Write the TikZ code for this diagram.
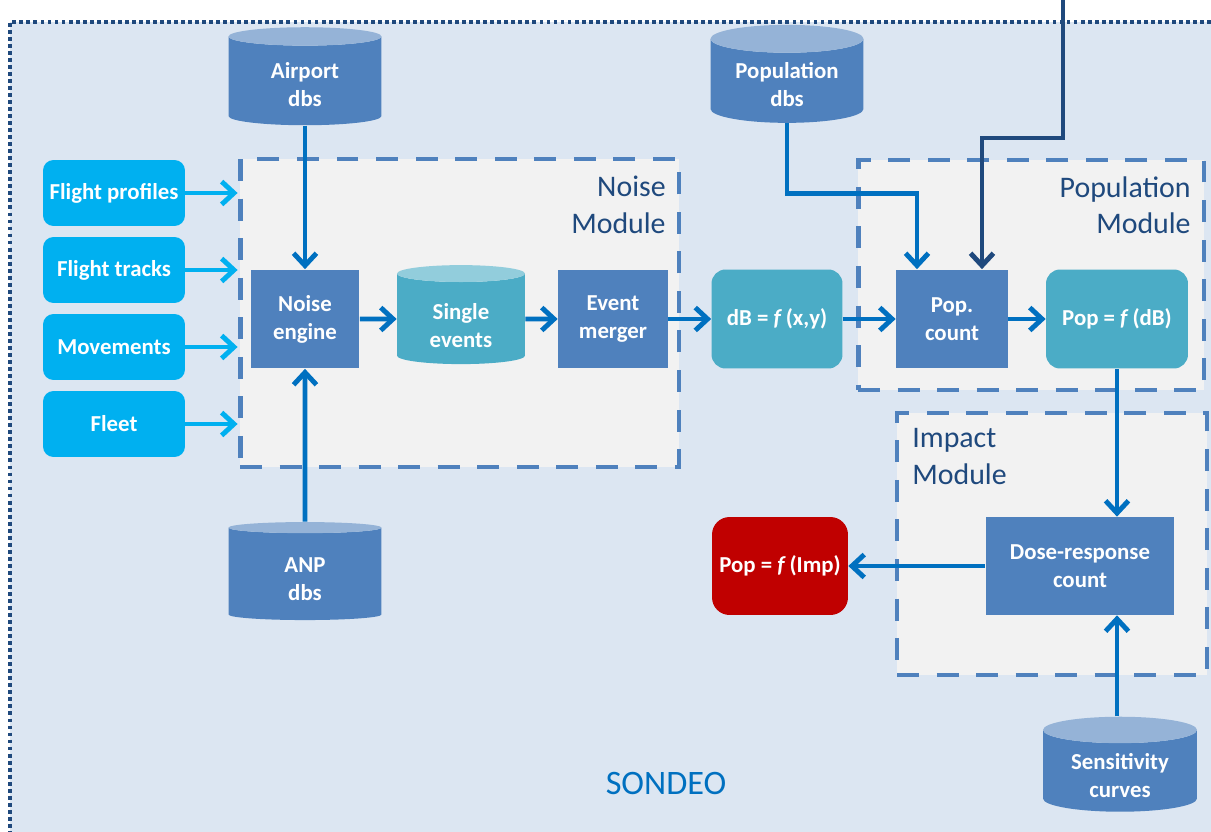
\documentclass[tikz,border=0pt]{standalone}
\usepackage{fontspec}
\setmainfont{Carlito}
\usepackage{tikz}
\usetikzlibrary{arrows.meta, shapes.geometric, positioning}
\definecolor{bgblue}{HTML}{DCE6F2}
\definecolor{modgray}{HTML}{F2F2F2}
\definecolor{boxblue}{HTML}{4F81BD}
\definecolor{topblue}{HTML}{95B3D7}
\definecolor{aqua}{HTML}{4BACC6}
\definecolor{topaqua}{HTML}{92CDDC}
\definecolor{skyblue}{HTML}{00B0F0}
\definecolor{linkblue}{HTML}{0070C0}
\definecolor{navy}{HTML}{1F497D}
\definecolor{outred}{HTML}{C00000}
\tikzset{txt/.style = {text=white, font=\fontsize{13}{16}\selectfont\bfseries, align=center, inner sep=0pt}}
\tikzset{proc/.style = {txt, shape=rectangle, fill=boxblue}}
\tikzset{result/.style = {txt, shape=rectangle, rounded corners=8pt, fill=aqua}}
\tikzset{input/.style = {txt, shape=rectangle, rounded corners=6pt, fill=skyblue, minimum width=2.84cm, minimum height=1.32cm}}
\tikzset{dbs/.style = {txt, shape=cylinder, shape border rotate=90, aspect=0.27, cylinder uses custom fill, cylinder body fill=boxblue, cylinder end fill=topblue, minimum width=3.06cm, minimum height=1.96cm, text height=29pt}}
\tikzset{module/.style = {shape=rectangle, draw=boxblue, fill=modgray, line width=2.8pt, dash pattern=on 12.5pt off 10pt, inner sep=0pt}}
\tikzset{modlabel/.style = {text=navy, font=\fontsize{17}{21}\selectfont, inner sep=0pt}}
\tikzset{edge/.style = {-{Straight Barb[length=7pt,width=13pt]}, draw=linkblue, line width=2.8pt}}
\tikzset{feed/.style = {edge, draw=skyblue}}

\begin{document}
\begin{tikzpicture}[x=0.02cm, y=-0.02cm]
                \useasboundingbox (0,0) rectangle (1211,832);
                \fill[bgblue] (10,22) rectangle (1211,832);
                \draw[navy, line width=2.2pt, dash pattern=on 2.2pt off 1.8pt] (1211,22) -- (10,22) -- (10,832);
                \node[module, minimum width=8.78cm, minimum height=6.16cm] (noise) at (459.5,313) {};
                \node[module, minimum width=6.92cm, minimum height=4.6cm] (popmod) at (1031,275) {};
                \node[module, minimum width=6.2cm, minimum height=5.24cm] (impmod) at (1052,544) {};
                \node[modlabel, anchor=north east, align=right] (noiselbl) at (666,176) {Noise\\Module};
                \node[modlabel, anchor=north east, align=right] (poplbl) at (1191,176) {Population\\Module};
                \node[modlabel, anchor=north west, align=left] (implbl) at (912,428) {Impact\\Module};
                \node[text=linkblue, font=\fontsize{19.5}{23}\selectfont] (sondeo) at (666,783) {SONDEO};
                \node[dbs] (airport) at (305,81) {Airport\\dbs};
                \node[dbs] (popdbs) at (787,81) {Population\\dbs};
                \node[dbs, text height=30pt] (anp) at (305,574) {ANP\\dbs};
                \node[dbs, minimum width=3.08cm, minimum height=1.9cm, text height=30pt] (sens) at (1120,771) {Sensitivity\\curves};
                \node[input] (fprof) at (114,193) {Flight profiles};
                \node[input] (ftrack) at (114,270) {Flight tracks};
                \node[input] (moves) at (114,347) {Movements};
                \node[input] (fleet) at (114,424) {Fleet};
                \node[proc, minimum width=2.18cm, minimum height=1.98cm] (engine) at (305,319) {Noise\\engine};
                \node[dbs, cylinder body fill=aqua, cylinder end fill=topaqua, minimum width=2.56cm, minimum height=1.98cm, text height=32.5pt] (single) at (461,319) {Single\\events};
                \node[proc, minimum width=2.2cm, minimum height=1.98cm] (merger) at (613,319) {Event\\merger};
                \node[result, minimum width=2.62cm, minimum height=1.98cm] (dbxy) at (777,319) {dB = \textit{f}\,(x,y)};
                \node[proc, minimum width=2.24cm, minimum height=1.98cm] (popcount) at (952,319) {Pop.\\count};
                \node[result, minimum width=2.84cm, minimum height=1.98cm] (popdb) at (1117,319) {Pop = \textit{f}\,(dB)};
                \node[proc, minimum width=3.78cm, minimum height=1.96cm] (dose) at (1080,566) {Dose-response\\count};
                \node[result, fill=outred, rounded corners=10pt, minimum width=2.72cm, minimum height=1.96cm] (popimp) at (780,566) {Pop = \textit{f}\,(Imp)};
                \coordinate (feedin) at (1063,0);
                \draw[feed] (fprof) -- (fprof -| noise.west);
                \draw[feed] (ftrack) -- (ftrack -| noise.west);
                \draw[feed] (moves) -- (moves -| noise.west);
                \draw[feed] (fleet) -- (fleet -| noise.west);
                \draw[edge] (airport.south) -- (engine.north);
                \draw[edge] (anp.north) -- (engine.south);
                \draw[edge] (engine) -- (single);
                \draw[edge] (single) -- (merger);
                \draw[edge] (merger) -- (dbxy);
                \draw[edge] (dbxy) -- (popcount);
                \draw[edge] (popcount) -- (popdb);
                \draw[edge] (popdbs.south) -- ++(0,70) -| ([xshift=-0.7cm]popcount.north);
                \draw[edge, draw=navy] (feedin) -- ++(0,138) -| ([xshift=0.6cm]popcount.north);
                \draw[edge] (popdb.south) -- (popdb.south |- dose.north);
                \draw[edge] (sens.north -| popdb.south) -- (popdb.south |- dose.south);
                \draw[edge] (dose) -- (popimp);
\end{tikzpicture}
\end{document}
